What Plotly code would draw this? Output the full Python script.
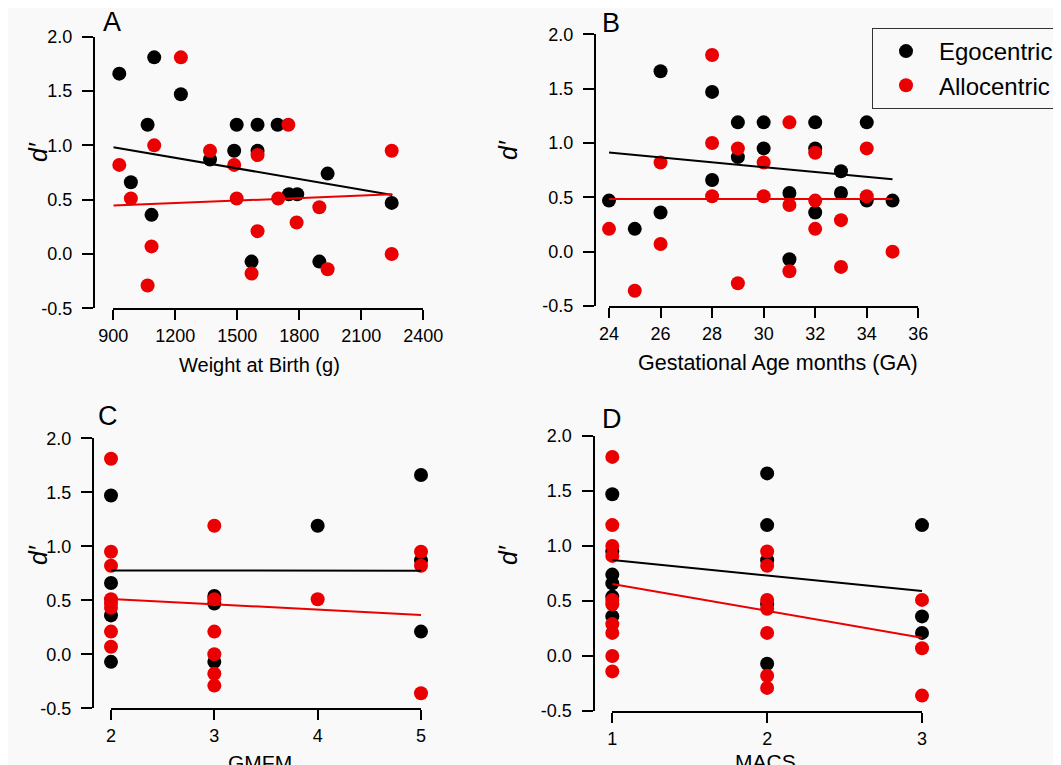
import plotly.graph_objects as go

# ---------------- data ----------------
dprime_ticks = [-0.5, 0.0, 0.5, 1.0, 1.5, 2.0]
dprime_ticklabels = ["-0.5", "0.0", "0.5", "1.0", "1.5", "2.0"]

# Panel A: Weight at Birth (g)
A_ego_x = [929, 1098, 1227, 1066, 1497, 1598, 1695, 1368, 1485, 1598, 985, 1937, 1750, 1790, 2247, 1085, 1569, 1897]
A_ego_y = [1.66, 1.81, 1.47, 1.19, 1.19, 1.19, 1.19, 0.87, 0.95, 0.95, 0.66, 0.74, 0.55, 0.55, 0.47, 0.36, -0.07, -0.07]
A_allo_x = [1227, 1747, 1098, 1368, 2247, 1598, 929, 1485, 985, 1497, 1698, 1897, 1787, 1598, 1085, 2247, 1569, 1937, 1066]
A_allo_y = [1.81, 1.19, 1.00, 0.95, 0.95, 0.91, 0.82, 0.82, 0.51, 0.51, 0.51, 0.43, 0.29, 0.21, 0.07, 0.00, -0.18, -0.14, -0.29]
A_ticks = [900, 1200, 1500, 1800, 2100, 2400]
A_fit_x = [900, 2250]
A_fit_ego = [1.275, -0.000325]   # intercept, slope
A_fit_allo = [0.376, 0.0000769]

# Panel B: Gestational Age months (GA)
B_ego_x = [24, 25, 26, 26, 28, 28, 29, 29, 30, 30, 31, 31, 32, 32, 32, 33, 33, 34, 34, 35]
B_ego_y = [0.47, 0.21, 1.66, 0.36, 1.47, 0.66, 1.19, 0.87, 1.19, 0.95, 0.54, -0.07, 1.19, 0.95, 0.36, 0.74, 0.54, 1.19, 0.47, 0.47]
B_allo_x = [24, 25, 26, 26, 28, 28, 28, 29, 29, 30, 30, 31, 31, 31, 32, 32, 32, 33, 33, 34, 34, 35]
B_allo_y = [0.21, -0.36, 0.82, 0.07, 1.81, 1.00, 0.51, 0.95, -0.29, 0.82, 0.51, 1.19, 0.43, -0.18, 0.91, 0.47, 0.21, 0.29, -0.14, 0.95, 0.51, 0.00]
B_ticks = [24, 26, 28, 30, 32, 34, 36]
B_fit_x = [24, 35]
B_fit_ego = [1.446, -0.02227]
B_fit_allo = [0.485, 0.0]

# Panel C: GMFM
C_ego_x = [2, 2, 2, 2, 3, 3, 3, 4, 5, 5, 5]
C_ego_y = [1.47, 0.66, 0.36, -0.07, 0.54, 0.47, -0.07, 1.19, 1.66, 0.87, 0.21]
C_allo_x = [2, 2, 2, 2, 2, 2, 2, 2, 3, 3, 3, 3, 3, 3, 4, 5, 5, 5]
C_allo_y = [1.81, 0.95, 0.82, 0.51, 0.47, 0.43, 0.21, 0.07, 1.19, 0.51, 0.21, 0.00, -0.18, -0.29, 0.51, 0.95, 0.82, -0.36]
C_ticks = [2, 3, 4, 5]
C_fit_x = [2, 5]
C_fit_ego = [0.779, -0.001]
C_fit_allo = [0.611, -0.0493]

# Panel D: MACS
D_ego_x = [1, 1, 1, 1, 1, 1, 2, 2, 2, 2, 2, 3, 3, 3]
D_ego_y = [1.47, 0.95, 0.74, 0.66, 0.54, 0.36, 1.66, 1.19, 0.87, 0.47, -0.07, 1.19, 0.36, 0.21]
D_allo_x = [1, 1, 1, 1, 1, 1, 1, 1, 1, 1, 2, 2, 2, 2, 2, 2, 2, 3, 3, 3]
D_allo_y = [1.81, 1.19, 1.00, 0.91, 0.51, 0.47, 0.29, 0.21, 0.00, -0.14, 0.95, 0.82, 0.51, 0.43, 0.21, -0.18, -0.29, 0.51, 0.07, -0.36]
D_ticks = [1, 2, 3]
D_fit_x = [1, 3]
D_fit_ego = [1.0145, -0.1415]
D_fit_allo = [0.90, -0.245]

# ---------------- styling / layout ----------------
W, H = 1061, 765
OFF = 8  # page body margin
BLACK = "#000000"
RED = "#ea0000"
FONT = "Liberation Sans, Arial, sans-serif"


def fx(p):
    return (p - OFF) / W


def fy(p):
    return 1 - (p - OFF) / H


panels = [
    dict(ex=A_ego_x, ey=A_ego_y, ax=A_allo_x, ay=A_allo_y, ticks=A_ticks, fitx=A_fit_x,
         fe=A_fit_ego, fa=A_fit_allo, xp=(113.3, 423.3), yp=(36.7, 308.3), yl=94,
         letter="A", lpos=(101, 22), title="Weight at Birth (g)", tsize=20, tpos=(259, 365), dpos=(38, 152)),
    dict(ex=B_ego_x, ey=B_ego_y, ax=B_allo_x, ay=B_allo_y, ticks=B_ticks, fitx=B_fit_x,
         fe=B_fit_ego, fa=B_fit_allo, xp=(609, 918.3), yp=(34.3, 306), yl=595,
         letter="B", lpos=(600, 23), title="Gestational Age months (GA)", tsize=21.5, tpos=(778, 363), dpos=(508, 150)),
    dict(ex=C_ego_x, ey=C_ego_y, ax=C_allo_x, ay=C_allo_y, ticks=C_ticks, fitx=C_fit_x,
         fe=C_fit_ego, fa=C_fit_allo, xp=(111, 421), yp=(438.3, 708.3), yl=93,
         letter="C", lpos=(96, 416), title="GMFM", tsize=21, tpos=(260, 762), dpos=(38, 555)),
    dict(ex=D_ego_x, ey=D_ego_y, ax=D_allo_x, ay=D_allo_y, ticks=D_ticks, fitx=D_fit_x,
         fe=D_fit_ego, fa=D_fit_allo, xp=(612.3, 922), yp=(436, 711), yl=593.5,
         letter="D", lpos=(600, 419), title="MACS", tsize=21, tpos=(765, 761), dpos=(508, 555)),
]

fig = go.Figure()
annotations = []
layout_axes = {}

for i, p in enumerate(panels, start=1):
    xa = "x" if i == 1 else f"x{i}"
    ya = "y" if i == 1 else f"y{i}"
    first = i == 1
    fig.add_trace(go.Scatter(x=p["ex"], y=p["ey"], mode="markers", xaxis=xa, yaxis=ya,
                             marker=dict(color=BLACK, size=14), name="Egocentric",
                             showlegend=first, legendgroup="ego", cliponaxis=False))
    fig.add_trace(go.Scatter(x=p["ax"], y=p["ay"], mode="markers", xaxis=xa, yaxis=ya,
                             marker=dict(color=RED, size=14), name="Allocentric",
                             showlegend=first, legendgroup="allo", cliponaxis=False))
    fxs = p["fitx"]
    fig.add_trace(go.Scatter(x=fxs, y=[p["fe"][0] + p["fe"][1] * v for v in fxs], mode="lines",
                             xaxis=xa, yaxis=ya, line=dict(color=BLACK, width=2),
                             showlegend=False, hoverinfo="skip", cliponaxis=False))
    fig.add_trace(go.Scatter(x=fxs, y=[p["fa"][0] + p["fa"][1] * v for v in fxs], mode="lines",
                             xaxis=xa, yaxis=ya, line=dict(color=RED, width=2),
                             showlegend=False, hoverinfo="skip", cliponaxis=False))

    xkey = "xaxis" if i == 1 else f"xaxis{i}"
    ykey = "yaxis" if i == 1 else f"yaxis{i}"
    layout_axes[xkey] = dict(
        domain=[fx(p["xp"][0]), fx(p["xp"][1])], range=[p["ticks"][0], p["ticks"][-1]],
        anchor=ya, tickmode="array", tickvals=p["ticks"], ticktext=[str(t) for t in p["ticks"]],
        showline=True, linecolor=BLACK, linewidth=2, ticks="outside", ticklen=10, tickwidth=1.5,
        tickcolor=BLACK, showgrid=False, zeroline=False,
        tickfont=dict(family=FONT, size=18, color=BLACK))
    layout_axes[ykey] = dict(
        domain=[fy(p["yp"][1]), fy(p["yp"][0])], range=[-0.5, 2.0], anchor="free",
        position=fx(p["yl"]), tickmode="array", tickvals=dprime_ticks, ticktext=dprime_ticklabels,
        showline=True, linecolor=BLACK, linewidth=2, ticks="outside", ticklen=11, tickwidth=1.5,
        tickcolor=BLACK, showgrid=False, zeroline=False, ticklabelstandoff=6,
        tickfont=dict(family=FONT, size=18, color=BLACK))

    annotations.append(dict(text=p["letter"], x=fx(p["lpos"][0]), y=fy(p["lpos"][1]),
                            xref="paper", yref="paper", xanchor="left", yanchor="middle",
                            showarrow=False, font=dict(family=FONT, size=27, color=BLACK)))
    annotations.append(dict(text=p["title"], x=fx(p["tpos"][0]), y=fy(p["tpos"][1]),
                            xref="paper", yref="paper", xanchor="center", yanchor="middle",
                            showarrow=False, font=dict(family=FONT, size=p["tsize"], color=BLACK)))
    annotations.append(dict(text="<i>d′</i>", x=fx(p["dpos"][0]), y=fy(p["dpos"][1]),
                            xref="paper", yref="paper", xanchor="center", yanchor="middle",
                            textangle=-90, showarrow=False,
                            font=dict(family=FONT, size=25, color=BLACK)))

fig.update_layout(
    width=W, height=H,
    margin=dict(l=0, r=0, t=0, b=0, autoexpand=False),
    paper_bgcolor="#f9f9f9", plot_bgcolor="rgba(0,0,0,0)",
    font=dict(family=FONT, color=BLACK),
    showlegend=True,
    legend=dict(x=fx(872), y=fy(28), xanchor="left", yanchor="top",
                bordercolor="#333333", borderwidth=1, bgcolor="rgba(0,0,0,0)",
                font=dict(family=FONT, size=24, color=BLACK), itemwidth=56,
                tracegroupgap=0),
    annotations=annotations,
    **layout_axes,
)

fig.write_html("out.html")
